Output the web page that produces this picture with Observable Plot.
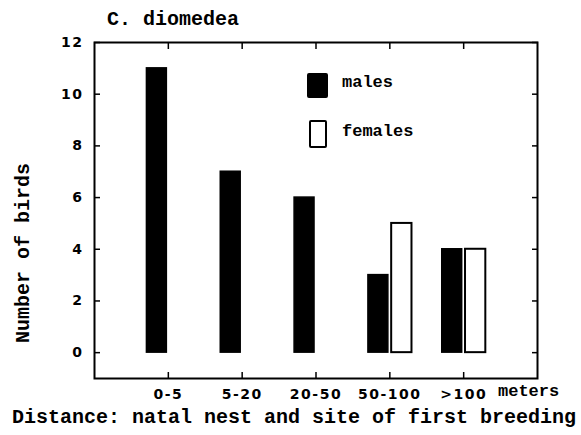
<!DOCTYPE html>
<html><head><meta charset="utf-8">
<script src="https://cdn.jsdelivr.net/npm/d3@7"></script>
<script src="https://cdn.jsdelivr.net/npm/@observablehq/plot@0.6"></script>
<style>
body{margin:0;background:#fff}
#wrap{position:relative;width:581px;height:435px;overflow:hidden;background:#fff}
.lbl{position:absolute;font-family:"Liberation Mono","DejaVu Sans Mono",monospace;font-weight:bold;color:#000;white-space:nowrap;line-height:1}
.sw{position:absolute;box-sizing:border-box}
</style></head><body>
<div id="wrap"></div>
<script>
const categories = ["0-5", "5-20", "20-50", "50-100", ">100"];
const males = [11, 7, 6, 3, 4];
const females = [0, 0, 0, 5, 4];
const yTicks = [0, 2, 4, 6, 8, 10, 12];
const seriesNames = ["males", "females"];
const titleText = "C. diomedea";
const yLabel = "Number of birds";
const xLabel = "Distance: natal nest and site of first breeding";
const xUnit = "meters";

const pos = categories.map((c, i) => i + 1);
const maleData = categories.map((c, i) => ({pos: i + 1, v: males[i]}));
const femaleData = categories.map((c, i) => ({pos: i + 1, v: females[i]})).filter(d => d.v > 0);

const plot = Plot.plot({
  width: 581, height: 435,
  marginTop: 42, marginBottom: 57, marginLeft: 94, marginRight: 44,
  x: {domain: [0, 6], axis: null},
  y: {domain: [-1, 12], axis: null},
  style: {fontFamily: "'DejaVu Sans', sans-serif", fontWeight: "bold", fontSize: "14px", color: "#000", background: "#fff", letterSpacing: "1.5px"},
  marks: [
    Plot.rect(maleData, {x1: d => d.pos - 0.29, x2: d => d.pos - 0.02, y1: 0, y2: "v", fill: "#000", stroke: "#000", strokeWidth: 1.5}),
    Plot.rect(femaleData, {x1: d => d.pos + 0.025, x2: d => d.pos + 0.30, y1: 0, y2: "v", fill: "#fff", stroke: "#000", strokeWidth: 2}),
    Plot.axisX({anchor: "bottom", ticks: pos, tickFormat: i => categories[i - 1], tickSize: -6, tickPadding: 17, label: null, strokeWidth: 1.5}),
    Plot.axisX({anchor: "top", ticks: pos, tickFormat: () => "", tickSize: -6, label: null, strokeWidth: 1.5}),
    Plot.axisY({anchor: "left", ticks: yTicks, tickSize: -6, tickPadding: 17, label: null, strokeWidth: 1.5}),
    Plot.axisY({anchor: "right", ticks: yTicks, tickFormat: () => "", tickSize: -6, label: null, strokeWidth: 1.5}),
    Plot.frame({stroke: "#000", strokeWidth: 2})
  ]
});

const wrap = document.getElementById("wrap");
plot.style.position = "absolute";
plot.style.left = "0";
plot.style.top = "0";
wrap.appendChild(plot);

function addLabel(text, left, top, size, extra) {
  const d = document.createElement("div");
  d.className = "lbl";
  d.textContent = text;
  d.style.left = left + "px";
  d.style.top = top + "px";
  d.style.fontSize = size + "px";
  if (extra) Object.assign(d.style, extra);
  wrap.appendChild(d);
  return d;
}
function addSwatch(left, top, w, h, fill) {
  const s = document.createElement("div");
  s.className = "sw";
  Object.assign(s.style, {left: left + "px", top: top + "px", width: w + "px", height: h + "px",
    background: fill, border: "2px solid #000", borderRadius: "2px"});
  wrap.appendChild(s);
}

addLabel(titleText, 107, 10, 20);
addLabel(yLabel, 24, 253, 20, {transform: "translate(-50%,-50%) rotate(-90deg)"});
addLabel(xLabel, 12, 408, 20);
addLabel(xUnit, 498, 383, 17);

addSwatch(307, 73, 21, 25, "#000");
addLabel(seriesNames[0], 342, 74, 17);
addSwatch(309, 120, 18, 28, "#fff");
addLabel(seriesNames[1], 342, 123, 17);
</script>
</body></html>
